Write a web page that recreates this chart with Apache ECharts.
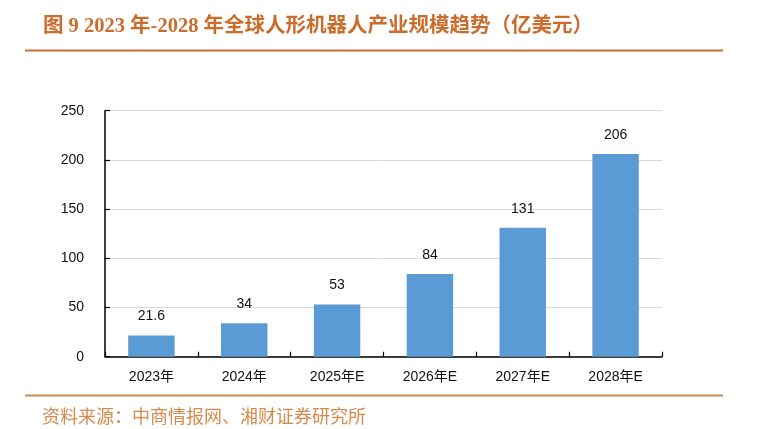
<!DOCTYPE html>
<html>
<head>
<meta charset="utf-8">
<script src="https://cdn.jsdelivr.net/npm/echarts@6/dist/echarts.min.js"></script>
<style>html,body{margin:0;padding:0;background:#fff;}#c{width:762px;height:429px;}</style>
</head>
<body>
<div id="c"></div>
<script>
const categories = ['2023年', '2024年', '2025年E', '2026年E', '2027年E', '2028年E'];
const values = [21.6, 34, 53, 84, 131, 206];
const yTicks = { min: 0, max: 250, interval: 50 };
const titleText = '图 9 2023 年-2028 年全球人形机器人产业规模趋势（亿美元）';
const sourceText = '资料来源：中商情报网、湘财证券研究所';

const chart = echarts.init(document.getElementById('c'));
chart.setOption({
  backgroundColor: '#fff',
  animation: false,
  title: [{
    text: titleText,
    left: 38, top: 11,
    textStyle: { fontFamily: '"Liberation Serif","Noto Sans CJK SC"', fontWeight: 'bold', fontSize: 20.5, color: '#cc6c2c' }
  }, {
    text: sourceText,
    left: 37, top: 402,
    textStyle: { fontFamily: '"Noto Sans CJK SC"', fontWeight: 'normal', fontSize: 18, color: '#d9894b' }
  }],
  graphic: [
    { type: 'rect', shape: { x: 25, y: 49.5, width: 698, height: 2 }, style: { fill: '#cc6c2c' } },
    { type: 'rect', shape: { x: 25, y: 394.5, width: 698, height: 2 }, style: { fill: '#cc8a50' } }
  ],
  grid: { left: 105, right: 100, top: 110.7, bottom: 72.3, containLabel: false },
  xAxis: {
    type: 'category',
    data: categories,
    boundaryGap: true,
    axisLine: { lineStyle: { color: '#000', width: 1.5 } },
    axisTick: { show: true, inside: true, length: 5, lineStyle: { color: '#000', width: 1.2 }, alignWithLabel: false },
    axisLabel: { margin: 13, fontSize: 14, color: '#111', fontFamily: '"Liberation Sans","Noto Sans CJK SC"' }
  },
  yAxis: {
    type: 'value',
    min: yTicks.min, max: yTicks.max, interval: yTicks.interval,
    axisLine: { show: true, lineStyle: { color: '#000', width: 1.5 } },
    axisTick: { show: true, inside: true, length: 5, lineStyle: { color: '#000', width: 1.2 } },
    axisLabel: { margin: 21, fontSize: 14, color: '#111', fontFamily: '"Liberation Sans","Noto Sans CJK SC"' },
    splitLine: { show: true, lineStyle: { color: '#d9d9d9', width: 1 } }
  },
  series: [{
    type: 'bar',
    data: values,
    barWidth: '50%',
    itemStyle: { color: '#5b9bd5' },
    label: { show: true, position: 'top', distance: 12, fontSize: 14, color: '#111', fontFamily: '"Liberation Sans","Noto Sans CJK SC"' }
  }]
});
</script>
</body>
</html>
